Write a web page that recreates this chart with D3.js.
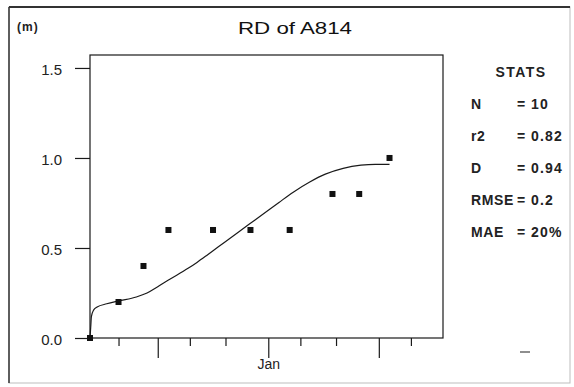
<!DOCTYPE html>
<html>
<head>
<meta charset="utf-8">
<script src="https://cdn.jsdelivr.net/npm/d3@7/dist/d3.min.js"></script>
<style>
  html, body { margin: 0; padding: 0; background: #fff; }
  svg { display: block; font-family: "Liberation Sans", Arial, sans-serif; }
</style>
</head>
<body>
<svg id="chart" width="574" height="387"></svg>
<script>
// ---------- data ----------
const titleText = "RD of A814";
const unitLabel = "(m)";
const seasonStart = "1990-11-12";
const seasonEnd = "1991-02-19";
const obsDates = ["1990-11-12", "1990-11-20", "1990-11-27", "1990-12-04", "1990-12-16T12:00:00Z",
                  "1990-12-27", "1991-01-07", "1991-01-19", "1991-01-26T12:00:00Z", "1991-02-04"];
const obsValues = [0.0, 0.2, 0.4, 0.6, 0.6, 0.6, 0.6, 0.8, 0.8, 1.0];
// simulated rooting depth: days after season start, value (m)
const simDays = [0, 0.2, 0.4, 1, 2, 4.7, 8, 13, 16, 19, 22, 27.5, 30, 33, 36, 39, 44.5, 48, 53, 57, 61.5, 66, 71, 76, 80, 84];
const simValues = [0, 0.06, 0.12, 0.155, 0.172, 0.19, 0.206, 0.228, 0.25, 0.285, 0.322, 0.387, 0.42, 0.463, 0.507, 0.55, 0.63, 0.68, 0.753, 0.81, 0.865, 0.91, 0.942, 0.96, 0.965, 0.965];
const yTicks = [0.0, 0.5, 1.0, 1.5];
const xTickDays = [1, 10, 20];
const monthLabels = {0: "Jan"};
const statsTitle = "STATS";
const statLabels = ["N", "r2", "D", "RMSE", "MAE"];
const statValues = ["10", "0.82", "0.94", "0.2", "20%"];

// ---------- layout ----------
const plot = { left: 90, right: 443, top: 55, bottom: 338 };
const yTop = 1.572;
const ink = "#1a1a1a";

const svg = d3.select("#chart");
const parse = d3.isoParse;

// outer frame
svg.append("rect").attr("x", 9).attr("y", 7).attr("width", 561).attr("height", 376)
  .attr("fill", "#fff").attr("stroke", "#bdbdbd").attr("stroke-width", 1);
svg.append("line").attr("x1", 9).attr("x2", 570).attr("y1", 7).attr("y2", 7)
  .attr("stroke", "#333").attr("stroke-width", 2);
svg.append("line").attr("x1", 9).attr("x2", 9).attr("y1", 7).attr("y2", 383)
  .attr("stroke", "#333").attr("stroke-width", 1.5);

const x = d3.scaleUtc().domain([parse(seasonStart), parse(seasonEnd)]).range([plot.left, plot.right]);
const y = d3.scaleLinear().domain([0, 1.5]).range([plot.bottom, plot.bottom - (plot.bottom - plot.top) * 1.5 / yTop]);

// plot frame
svg.append("rect").attr("x", plot.left).attr("y", plot.top)
  .attr("width", plot.right - plot.left).attr("height", plot.bottom - plot.top)
  .attr("fill", "none").attr("stroke", ink).attr("stroke-width", 1.2);

// y axis
const yAxis = svg.append("g").attr("transform", `translate(${plot.left},0)`)
  .call(d3.axisLeft(y).tickValues(yTicks).tickSize(15).tickPadding(13).tickFormat(d3.format(".1f")));
yAxis.select(".domain").remove();
yAxis.selectAll("line").attr("stroke", ink).attr("stroke-width", 1.2);
yAxis.selectAll("text").attr("font-size", 15).attr("fill", "#222")
  .attr("dy", "0.45em").attr("font-family", "'Liberation Sans', Arial, sans-serif");

// x axis
const xTickValues = x.ticks(d3.utcDay.filter(d => xTickDays.includes(d.getUTCDate())));
const xAxis = svg.append("g").attr("transform", `translate(0,${plot.bottom})`)
  .call(d3.axisBottom(x).tickValues(xTickValues).tickSize(8)
    .tickFormat(d => d.getUTCDate() === 1 ? (monthLabels[d.getUTCMonth()] || "") : ""));
xAxis.select(".domain").remove();
xAxis.selectAll("line").attr("stroke", ink).attr("stroke-width", 1.2)
  .attr("y2", d => d.getUTCDate() === 1 ? 20 : 8);
xAxis.selectAll("text").attr("font-size", 14).attr("fill", "#222").attr("y", 31).attr("dy", 0)
  .attr("font-family", "'Liberation Sans', Arial, sans-serif");

// simulated curve
const simStart = parse(seasonStart).getTime();
const simData = simDays.map((d, i) => ({ date: new Date(simStart + d * 864e5), v: simValues[i] }));
svg.append("path").datum(simData)
  .attr("fill", "none").attr("stroke", ink).attr("stroke-width", 1.2)
  .attr("d", d3.line().x(d => x(d.date)).y(d => y(d.v)).curve(d3.curveMonotoneX));

// observations
const obs = obsDates.map((d, i) => ({ date: parse(d.length === 10 ? d + "T00:00:00Z" : d), v: obsValues[i] }));
svg.append("g").selectAll("rect").data(obs).join("rect")
  .attr("x", d => x(d.date) - 3).attr("y", d => y(d.v) - 3)
  .attr("width", 6).attr("height", 6).attr("fill", "#111");

// titles
svg.append("text").attr("x", 17).attr("y", 31).attr("font-size", 12).attr("font-weight", "bold")
  .attr("fill", "#222").attr("letter-spacing", 1).text(unitLabel);
svg.append("text").attr("x", 238).attr("y", 34).attr("font-size", 16).attr("fill", "#111")
  .attr("textLength", 114).attr("lengthAdjust", "spacingAndGlyphs").text(titleText);

// stats
svg.append("text").attr("x", 521).attr("y", 77).attr("text-anchor", "middle")
  .attr("font-size", 14).attr("font-weight", "bold").attr("letter-spacing", 1.4)
  .attr("fill", "#222").text(statsTitle);
const statG = svg.append("g").attr("font-size", 14).attr("font-weight", "bold").attr("fill", "#222");
statLabels.forEach((lab, i) => {
  const by = 109 + i * 32;
  statG.append("text").attr("x", 471).attr("y", by).attr("letter-spacing", 0.6).text(lab);
  statG.append("text").attr("x", 517).attr("y", by).text("=");
  statG.append("text").attr("x", 531).attr("y", by).attr("letter-spacing", 1.2).text(statValues[i]);
});

// small dash mark at lower right
svg.append("line").attr("x1", 520).attr("x2", 530).attr("y1", 352).attr("y2", 352)
  .attr("stroke", "#444").attr("stroke-width", 1.2);
</script>
</body>
</html>
